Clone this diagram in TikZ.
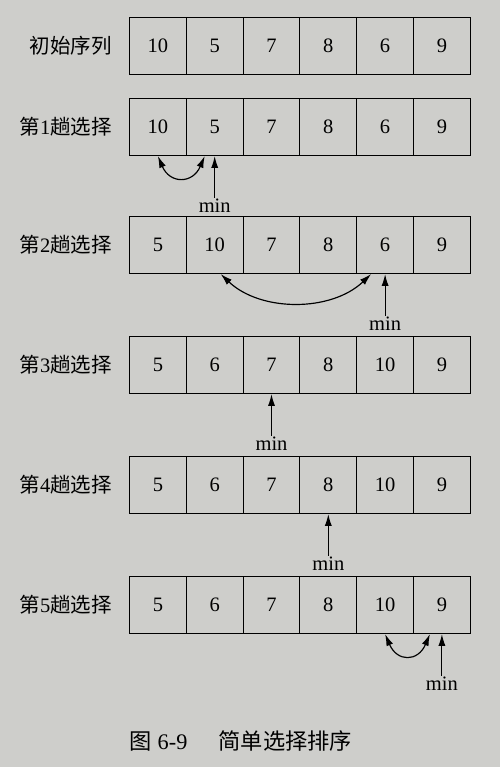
\documentclass[tikz,border=0pt]{standalone}
\usepackage{fontspec}
\setmainfont{Liberation Serif}
\newfontfamily\cjk{Noto Sans CJK SC}
\usepackage{tikz}
\usetikzlibrary{calc, arrows.meta}
\definecolor{papel}{RGB}{206,206,203}

\begin{document}
\begin{tikzpicture}[x=0.03cm, y=0.03cm,
  celda/.style={draw, line width=1pt, minimum width=1.704cm, minimum height=1.71cm, inner sep=0pt, font=\fontsize{17.5}{20}\selectfont},
  rotulo/.style={anchor=east, inner sep=0pt, font=\fontsize{17.5}{20}\selectfont},
  minimo/.style={inner sep=1pt, font=\fontsize{17.5}{20}\selectfont},
  flecha/.style={-{Latex[length=10pt, width=6pt]}, line width=1pt},
  cambio/.style={{Latex[length=10pt, width=6pt]}-{Latex[length=10pt, width=6pt]}, line width=1pt}]
% Fondo de la hoja
\fill[papel] (0,0) rectangle (500,767);
\useasboundingbox (0,0) rectangle (500,767);
% Filas de celdas
\foreach \r/\y/\lista in {0/721/{10,5,7,8,6,9}, 1/640/{10,5,7,8,6,9}, 2/522/{5,10,7,8,6,9},
                          3/402/{5,6,7,8,10,9}, 4/282/{5,6,7,8,10,9}, 5/162/{5,6,7,8,10,9}}
  \foreach \v [count=\c] in \lista
    \node[celda] (r\r-\c) at ({129.5+56.8*(\c-0.5)},\y) {\v};
% Rotulos de las filas
\node[rotulo] (l0) at (112,721) {\cjk 初始序列};
\foreach \r/\y in {1/640, 2/522, 3/402, 4/282, 5/162}
  \node[rotulo] (l\r) at (112,\y) {{\cjk 第}\r{\cjk 趟选择}};
% Posicion del minimo
\foreach \r/\c in {1/2, 2/5, 3/3, 4/4, 5/6} {
  \node[minimo] (m\r) at ($(r\r-\c.south)+(0,-50)$) {min};
  \draw[flecha] (m\r) -- (r\r-\c.south);
}
% Intercambios
\draw[cambio] (r1-1.south) .. controls +(12,-28) and +(-12,-28) .. ($(r1-2.south)+(-10,0)$);
\draw[cambio] ($(r2-2.south)+(6,0)$) .. controls +(40,-38) and +(-40,-38) .. ($(r2-5.south)+(-14,0)$);
\draw[cambio] (r5-5.south) .. controls +(12,-28) and +(-12,-28) .. ($(r5-6.south)+(-12,0)$);
% Pie de figura
\node[font=\fontsize{19}{22}\selectfont] (pie) at (241,26) {{\cjk 图} 6-9\hspace{1.4em}{\cjk 简单选择排序}};
\end{tikzpicture}
\end{document}
